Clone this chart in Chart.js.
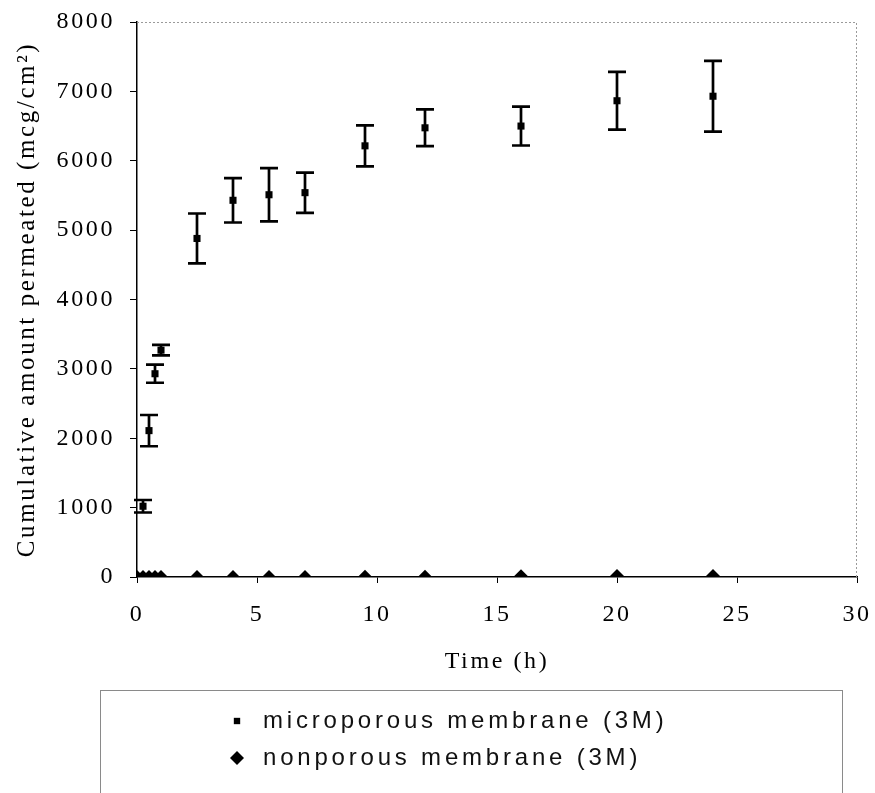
<!DOCTYPE html>
<html>
<head>
<meta charset="utf-8">
<script src="https://cdn.jsdelivr.net/npm/chart.js@4"></script>
<style>
html,body{margin:0;padding:0;background:#fff;}
</style>
</head>
<body>
<canvas id="perm" width="875" height="793"></canvas>
<script>
// sampling times (h) and cumulative amount (mcg/cm2)
let times = [0.25, 0.5, 0.75, 1, 2.5, 4, 5.5, 7, 9.5, 12, 16, 20, 24];
let microporous = [1020, 2110, 2930, 3270, 4880, 5430, 5510, 5540, 6215, 6475, 6500, 6865, 6930];
let microSD = [90, 225, 130, 75, 360, 320, 385, 290, 295, 265, 280, 415, 510];
let nonTimes = [0, 0.25, 0.5, 0.75, 1, 2.5, 4, 5.5, 7, 9.5, 12, 16, 20, 24];
let nonporous = [0, 0, 0, 0, 0, 0, 0, 0, 0, 2, 5, 10, 15, 15];
let seriesNames = ["microporous membrane (3M)", "nonporous membrane (3M)"];
let xMax = 30, xStep = 5;
let yMax = 8000, yStep = 1000;

const serif = '"Liberation Serif", "Times New Roman", serif';

// letter spacing like the scanned excel chart
const spacing = {
    id: 'spacing',
    beforeUpdate(chart){ chart.ctx.letterSpacing = '2.6px'; },
    beforeDraw(chart){ chart.ctx.letterSpacing = '2.6px'; }
};

const errorBars = {
    id: 'errorBars',
    beforeDatasetsDraw(chart){
        let ctx = chart.ctx;
        let x = chart.scales.x, y = chart.scales.y;
        ctx.save();
        ctx.strokeStyle = '#000';
        ctx.lineWidth = 2.7;
        for(let i=0;i<times.length;i++){
            let px = x.getPixelForValue(times[i]);
            let top = y.getPixelForValue(microporous[i] + microSD[i]);
            let bot = y.getPixelForValue(microporous[i] - microSD[i]);
            ctx.beginPath();
            ctx.moveTo(px, top); ctx.lineTo(px, bot);
            ctx.moveTo(px-9, top); ctx.lineTo(px+9, top);
            ctx.moveTo(px-9, bot); ctx.lineTo(px+9, bot);
            ctx.stroke();
        }
        ctx.restore();
    }
};

// dotted frame on top and right of the plot
const frame = {
    id: 'frame',
    beforeDatasetsDraw(chart){
        let ctx = chart.ctx, a = chart.chartArea;
        ctx.save();
        ctx.strokeStyle = '#9a9a9a';
        ctx.lineWidth = 1;
        ctx.setLineDash([2,2]);
        ctx.beginPath();
        ctx.moveTo(a.left, a.top + 0.5);
        ctx.lineTo(a.right - 0.5, a.top + 0.5);
        ctx.lineTo(a.right - 0.5, a.bottom);
        ctx.stroke();
        ctx.restore();
    }
};

// boxed legend under the axis title
const boxLegend = {
    id: 'boxLegend',
    afterDraw(chart){
        let ctx = chart.ctx;
        ctx.save();
        ctx.strokeStyle = '#8a8a8a';
        ctx.lineWidth = 1;
        ctx.strokeRect(100.5, 690.5, 742, 130);
        ctx.font = '24px "Liberation Sans", Arial, sans-serif';
        ctx.letterSpacing = '3.8px';
        ctx.textBaseline = 'middle';
        chart.data.datasets.forEach(function(ds, i){
            let yy = 721 + i*37;
            ctx.fillStyle = '#000';
            Chart.helpers.drawPoint(ctx, {pointStyle: ds.pointStyle, radius: i==0 ? 4.5 : 7, borderWidth: 0}, 237, yy);
            ctx.fillStyle = '#111';
            ctx.fillText(ds.label, 263, yy);
        });
        ctx.restore();
    }
};

function noOverflow(s){
    s.paddingLeft = 0; s.paddingRight = 0;
    s.paddingTop = 0; s.paddingBottom = 0;
}

let cxt = document.getElementById('perm');
let Scatter = new Chart(cxt, {
    type: 'scatter',
    data: {
        datasets: [
            {
                label: seriesNames[0],
                data: times.map((t,i)=>({x:t, y:microporous[i]})),
                showLine: false,
                pointStyle: 'rect',
                pointRadius: 5,
                backgroundColor: '#000',
                borderColor: '#000',
                borderWidth: 0
            },
            {
                label: seriesNames[1],
                data: nonTimes.map((t,i)=>({x:t, y:nonporous[i]})),
                showLine: false,
                pointStyle: 'rectRot',
                pointRadius: 7,
                backgroundColor: '#000',
                borderColor: '#000',
                borderWidth: 0
            }
        ]
    },
    options: {
        responsive: false,
        animation: false,
        devicePixelRatio: 1,
        layout: { padding: { left: 0, top: 22, right: 18, bottom: 116 } },
        plugins: {
            legend: { display: false },
            tooltip: { enabled: false }
        },
        scales: {
            x: {
                type: 'linear',
                min: 0, max: xMax,
                ticks: { stepSize: xStep, color: '#000', padding: 17, font: { family: serif, size: 24 }, callback: v => String(v) },
                grid: { drawOnChartArea: false, tickLength: 6, color: '#000' },
                border: { color: '#000', width: 1.5 },
                title: { display: true, text: 'Time (h)', color: '#000', padding: { top: 0, bottom: 1 }, font: { family: serif, size: 24 } },
                afterFit(s){ s.height = 100; noOverflow(s); }
            },
            y: {
                min: 0, max: yMax,
                ticks: { stepSize: yStep, color: '#000', padding: 15, font: { family: serif, size: 24 }, callback: v => String(v) },
                grid: { drawOnChartArea: false, tickLength: 7, color: '#000' },
                border: { color: '#000', width: 1.5 },
                title: { display: true, text: 'Cumulative amount permeated (mcg/cm\u00B2)', color: '#000', padding: { top: 12, bottom: 0 }, font: { family: serif, size: 25 } },
                afterFit(s){ s.width = 137; noOverflow(s); }
            }
        }
    },
    plugins: [spacing, frame, errorBars, boxLegend]
});
</script>
</body>
</html>
